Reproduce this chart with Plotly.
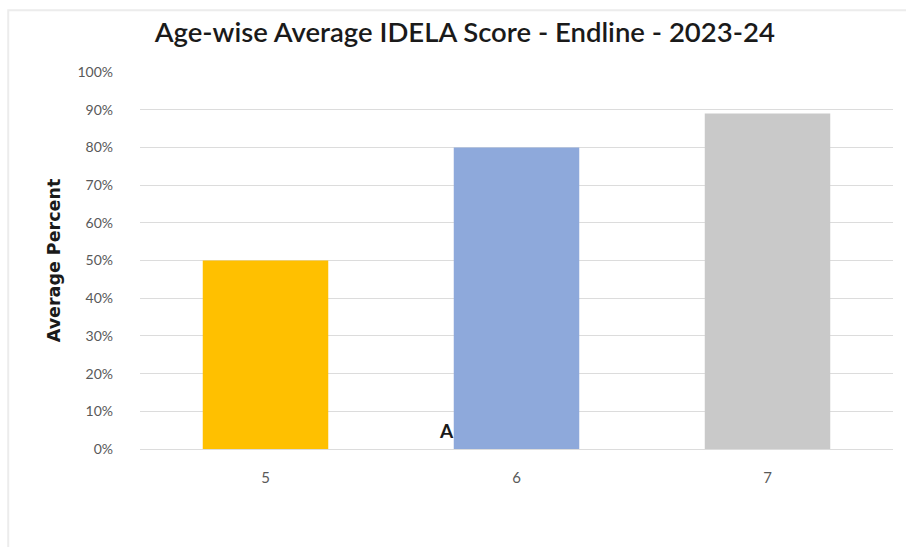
import plotly.graph_objects as go

ages = ["5", "6", "7"]
avg_percent = [0.50, 0.80, 0.89]
bar_colors = ["#FFC000", "#8EA9DB", "#C9C9C9"]
y_ticks = [0, 0.1, 0.2, 0.3, 0.4, 0.5, 0.6, 0.7, 0.8, 0.9, 1.0]
y_tick_labels = ["0%", "10%", "20%", "30%", "40%", "50%", "60%", "70%", "80%", "90%", "100%"]

fig = go.Figure()
fig.add_trace(go.Bar(
    x=ages, y=avg_percent, marker=dict(color=bar_colors, line=dict(width=0)),
    width=0.5, showlegend=False, hoverinfo="x+y",
))

fig.update_layout(
    width=906, height=547,
    margin=dict(l=140, r=13, t=72, b=98),
    paper_bgcolor="white", plot_bgcolor="white",
    font=dict(family="Lato", color="#595959"),
    title=dict(
        text="Age-wise Average IDELA Score - Endline - 2023-24",
        x=0.513, xanchor="center", y=0.94, yanchor="middle",
        font=dict(family="Lato", size=27.5, color="#1a1a1a", weight=600),
    ),
    xaxis=dict(
        type="category", showgrid=False, showline=False, ticks="",
        tickfont=dict(size=15, color="#595959"), ticklabelstandoff=18,
    ),
    yaxis=dict(
        range=[0, 1.0], tickvals=y_ticks, ticktext=y_tick_labels,
        showgrid=True, gridcolor="#dcdcdc", gridwidth=1.3,
        zeroline=True, zerolinecolor="#dcdcdc", zerolinewidth=1.3,
        showline=False, ticks="",
        tickfont=dict(size=14, color="#595959"), ticklabelstandoff=26,
        title=dict(text="Average Percent", standoff=12,
                   font=dict(family="DejaVu Sans", size=17.5, color="#1a1a1a", weight="bold")),
    ),
    shapes=[dict(type="rect", xref="paper", yref="paper",
                 x0=-0.175, x1=1.03, y0=-0.3, y1=1.164,
                 line=dict(color="#ececec", width=2), layer="below")],
    annotations=[dict(text="A", x=0.75, y=0.05, xref="x", yref="y",
                      xanchor="right", yanchor="middle", showarrow=False,
                      xshift=2,
                      font=dict(size=19, color="#1a1a1a", weight="bold"))],
)

fig.write_html("out.html")
